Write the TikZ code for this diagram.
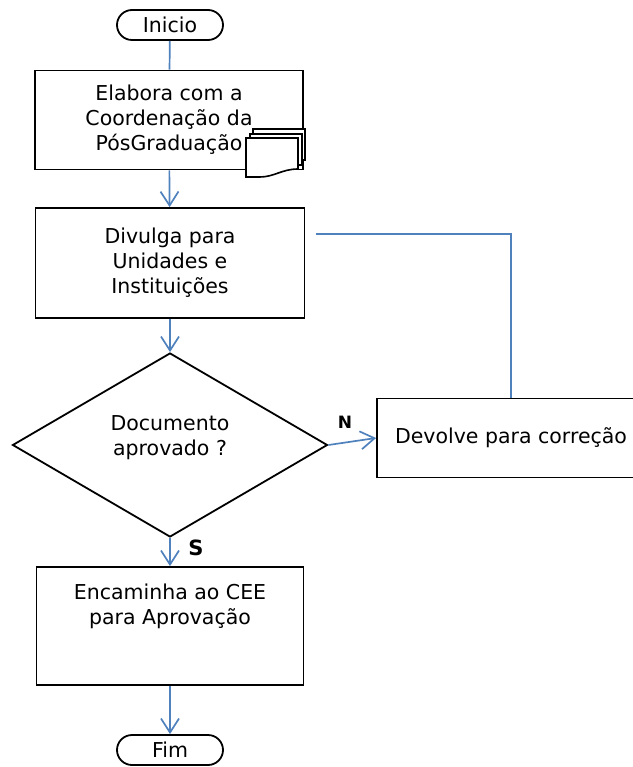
\documentclass[tikz,border=0pt]{standalone}
\usepackage{fontspec}
\setmainfont{DejaVu Sans}
\usetikzlibrary{shapes.geometric,arrows.meta}
\definecolor{lineBlue}{HTML}{4F81BD}

\begin{document}
\begin{tikzpicture}
[x=1pt,y=-1pt,
  textFont/.style={font=\fontsize{20.5}{25}\selectfont},%
  boxDecorate/.style={shape=rectangle,draw,line width=1.8pt,align=center,inner sep=0pt,textFont},%
  termDecorate/.style={boxDecorate,rounded corners=15pt,minimum width=106pt,minimum height=30pt},%
  decDecorate/.style={shape=diamond,draw,line width=1.8pt,align=center,inner sep=0pt,textFont,
    minimum width=315pt,minimum height=184pt},%
  lineDecorate/.style={-,lineBlue,line width=1.7pt},%
  arrowDecorate/.style={-{Straight Barb[length=14pt,width=18pt]},lineBlue,line width=1.7pt}]
\useasboundingbox (0,0) rectangle (632,767);
%% terminals
\node (inicio) at (170,25) [termDecorate] {Inicio};
\node (fim) at (170,750) [termDecorate] {Fim};
%% process boxes
\foreach \nodename/\nodelabel/\x/\y/\w/\h in {
  elabora/{Elabora com a\\Coordenação da\\PósGraduação}/169/120/268/99,
  divulga/{Divulga para\\Unidades e\\Instituições}/170/263/269/110,
  devolve/{Devolve para correção}/511/438/268/79,
  encaminha/{Encaminha ao CEE\\para Aprovação\\[18pt]\mbox{}}/170/626/267/118}
{
  \node (\nodename) at (\x,\y) [boxDecorate,minimum width=\w pt,minimum height=\h pt] {\nodelabel};
}
%% decision
\node (dec) at (170,445) [decDecorate] {Documento\\aprovado ?\\[-6pt]\mbox{}};
%% documents symbol
\foreach \dx/\dy in {7/-9, 4/-4}
{
  \draw[fill=white,line width=1.6pt] (\dx+246,\dy+138) rectangle (\dx+298,\dy+169);
}
\draw[fill=white,line width=1.6pt] (246,138) -- (298,138) -- (298,169)
  .. controls (282,169) and (274,177) .. (260,177) -- (246,177) -- cycle;
%% edges or lines
\path (inicio) edge[lineDecorate] (elabora);
\path
\foreach \startnode/\endnode in {
  elabora/divulga, divulga/dec, dec/encaminha, encaminha/fim}
{
  (\startnode) edge[arrowDecorate] (\endnode)
};
\draw[arrowDecorate] (dec.east) -- (devolve.west);
\coordinate (retorno) at (316,234);
\draw[lineDecorate] (devolve.north) |- (retorno);
%% labels
\node (nLabel) at (345,422) [font=\bfseries\fontsize{17}{17}\selectfont] {N};
\node (sLabel) at (196,548) [font=\bfseries\fontsize{21}{21}\selectfont] {S};
\end{tikzpicture}
\end{document}
